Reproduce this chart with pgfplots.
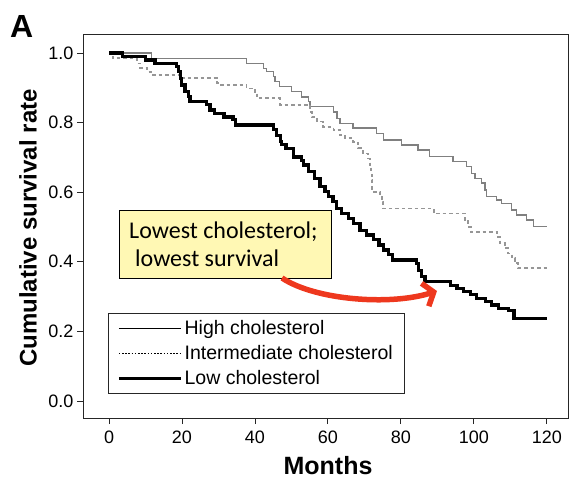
\documentclass[border=0pt]{standalone}
\usepackage{pgfplots}
\pgfplotsset{compat=1.18}
\usepackage{fontspec}
\setmainfont{Liberation Sans}
\newfontfamily\calibri{Carlito}
\usetikzlibrary{arrows.meta}
\definecolor{hiGray}{RGB}{128,128,128}
\definecolor{midGray}{RGB}{150,150,150}
\definecolor{noteYellow}{RGB}{255,248,180}
\definecolor{arrowRed}{RGB}{238,56,30}
\begin{document}
\begin{tikzpicture}[x=1pt,y=1pt]
\useasboundingbox (0,0) rectangle (569,480);
\begin{axis}[
  scale only axis, width=485pt, height=383pt,
  at={(83pt,62pt)}, anchor=south west,
  xmin=-7.13, xmax=125.8, ymin=-0.0489, ymax=1.0517,
  xtick={0,20,40,60,80,100,120},
  ytick={0,0.2,0.4,0.6,0.8,1.0},
  yticklabel style={/pgf/number format/.cd, fixed, fixed zerofill, precision=1},
  xticklabel style={yshift=-3pt},
  /pgf/number format/assume math mode=true,
  tick pos=left, tick align=outside, major tick length=6pt,
  tick style={black!85, line width=0.9pt},
  axis line style={line width=1pt, black!85},
  ticklabel style={font=\fontsize{18}{20}\selectfont},
  legend style={at={(axis cs:-0.27,0.2529)}, anchor=north west,
    draw=black!85, line width=1pt, fill=white,
    font=\fontsize{19.5}{22}\selectfont,
    inner xsep=9pt, inner ysep=4.5pt, row sep=4.5pt,
    nodes={inner sep=2.5pt}, cells={anchor=west}},
  legend image code/.code={\draw[#1] (0pt,0pt) -- (62pt,0pt);},
]
\addlegendimage{black, line width=0.8pt}
\addlegendentry{High cholesterol}
\addlegendimage{black, line width=0.8pt, dash pattern=on 1.6pt off 1.6pt}
\addlegendentry{Intermediate cholesterol}
\addlegendimage{black, line width=2.6pt}
\addlegendentry{Low cholesterol}

% High cholesterol
\addplot[forget plot, const plot, draw=hiGray, line width=1.4pt] coordinates {
(0,1.000) (11.7,0.985) (37.7,0.970) (42.3,0.956) (43.2,0.946) (45.0,0.932)
(45.5,0.918) (46.8,0.903) (50.0,0.889) (52.8,0.874) (54.6,0.860) (55.1,0.846)
(61.5,0.831) (62.5,0.812) (63.3,0.798) (66.9,0.784) (73.3,0.769) (75.2,0.750)
(80.2,0.736) (84.7,0.721) (87.9,0.702) (94.3,0.688) (98.0,0.673) (99.4,0.654)
(100.3,0.640) (102.1,0.626) (103.0,0.606) (103.5,0.587) (106.2,0.578) (107.6,0.568)
(110.3,0.549) (111.7,0.534) (114.4,0.520) (116.3,0.501) (120,0.501)
};
% Intermediate cholesterol
\addplot[forget plot, const plot, draw=midGray, line width=1.8pt, dash pattern=on 3.5pt off 3pt] coordinates {
(0,1.0) (1.0,0.985) (7.6,0.970) (8.5,0.956) (10.5,0.946) (12.0,0.937)
(19.5,0.927) (29.6,0.913) (30.6,0.908) (37.7,0.898) (40.0,0.884) (40.5,0.870)
(46.9,0.851) (55.1,0.831) (55.6,0.817) (56.9,0.803) (58.6,0.788) (61.5,0.779)
(63.3,0.764) (64.7,0.755) (66.9,0.745) (68.3,0.726) (69.6,0.711) (71.0,0.697)
(71.5,0.678) (71.9,0.654) (72.0,0.635) (72.1,0.601) (74.3,0.592) (74.8,0.573)
(75.2,0.553) (89.0,0.539) (97.5,0.520) (98.4,0.501) (99.2,0.486) (106.3,0.472)
(107.1,0.453) (108.5,0.439) (109.4,0.424) (110.4,0.410) (111.2,0.396) (112.2,0.381)
(120,0.381)
};
% Low cholesterol
\addplot[forget plot, const plot, draw=black, line width=3.2pt] coordinates {
(0,1.0) (3.8,0.989) (9.9,0.980) (12.6,0.970) (18.5,0.961) (19.0,0.946)
(19.5,0.927) (19.9,0.908) (20.8,0.889) (21.7,0.874) (22.2,0.860) (26.8,0.851)
(27.7,0.836) (29.0,0.827) (31.5,0.816) (34.0,0.810) (34.6,0.793) (45.1,0.779)
(46.0,0.764) (47.0,0.745) (47.3,0.736) (48.5,0.725) (50.6,0.701) (52.8,0.692)
(53.2,0.678) (54.6,0.659) (56.4,0.640) (57.8,0.616) (59.2,0.601) (60.1,0.587)
(61.4,0.573) (62.4,0.553) (63.7,0.539) (65.6,0.525) (67.0,0.511) (68.8,0.491)
(70.6,0.477) (72.5,0.463) (74.0,0.448) (75.3,0.434) (76.7,0.420) (77.6,0.405)
(84.3,0.396) (84.8,0.376) (85.7,0.357) (86.6,0.343) (93.6,0.333) (95.4,0.324)
(97.2,0.314) (99.0,0.305) (100.8,0.295) (103.1,0.285) (104.9,0.276) (106.8,0.266)
(109.5,0.261) (111.0,0.238) (120,0.238)
};
\end{axis}
% annotation box
\draw[black, line width=0.8pt, fill=noteYellow] (119,202) rectangle (331,270);
\node[anchor=base west, inner sep=0pt, font=\calibri\fontsize{24}{28}\selectfont] at (129,241.7) {Lowest cholesterol;};
\node[anchor=base west, inner sep=0pt, font=\calibri\fontsize{24}{28}\selectfont] at (135,213.3) {lowest survival};
% red arrow
\draw[arrowRed, line width=5.5pt, -{Straight Barb[length=9pt, width=24pt]}]
  (282,202) .. controls (315,180) and (390,174) .. (437,189);
% labels
\node[anchor=base, inner sep=0pt, font=\bfseries\fontsize{25}{30}\selectfont] at (328,6) {Months};
\node[anchor=base, rotate=90, inner sep=0pt, font=\bfseries\fontsize{24}{28}\selectfont] at (36.5,252) {Cumulative survival rate};
\node[anchor=base west, inner sep=0pt, font=\bfseries\fontsize{32}{36}\selectfont] at (10,442) {A};
\end{tikzpicture}
\end{document}
